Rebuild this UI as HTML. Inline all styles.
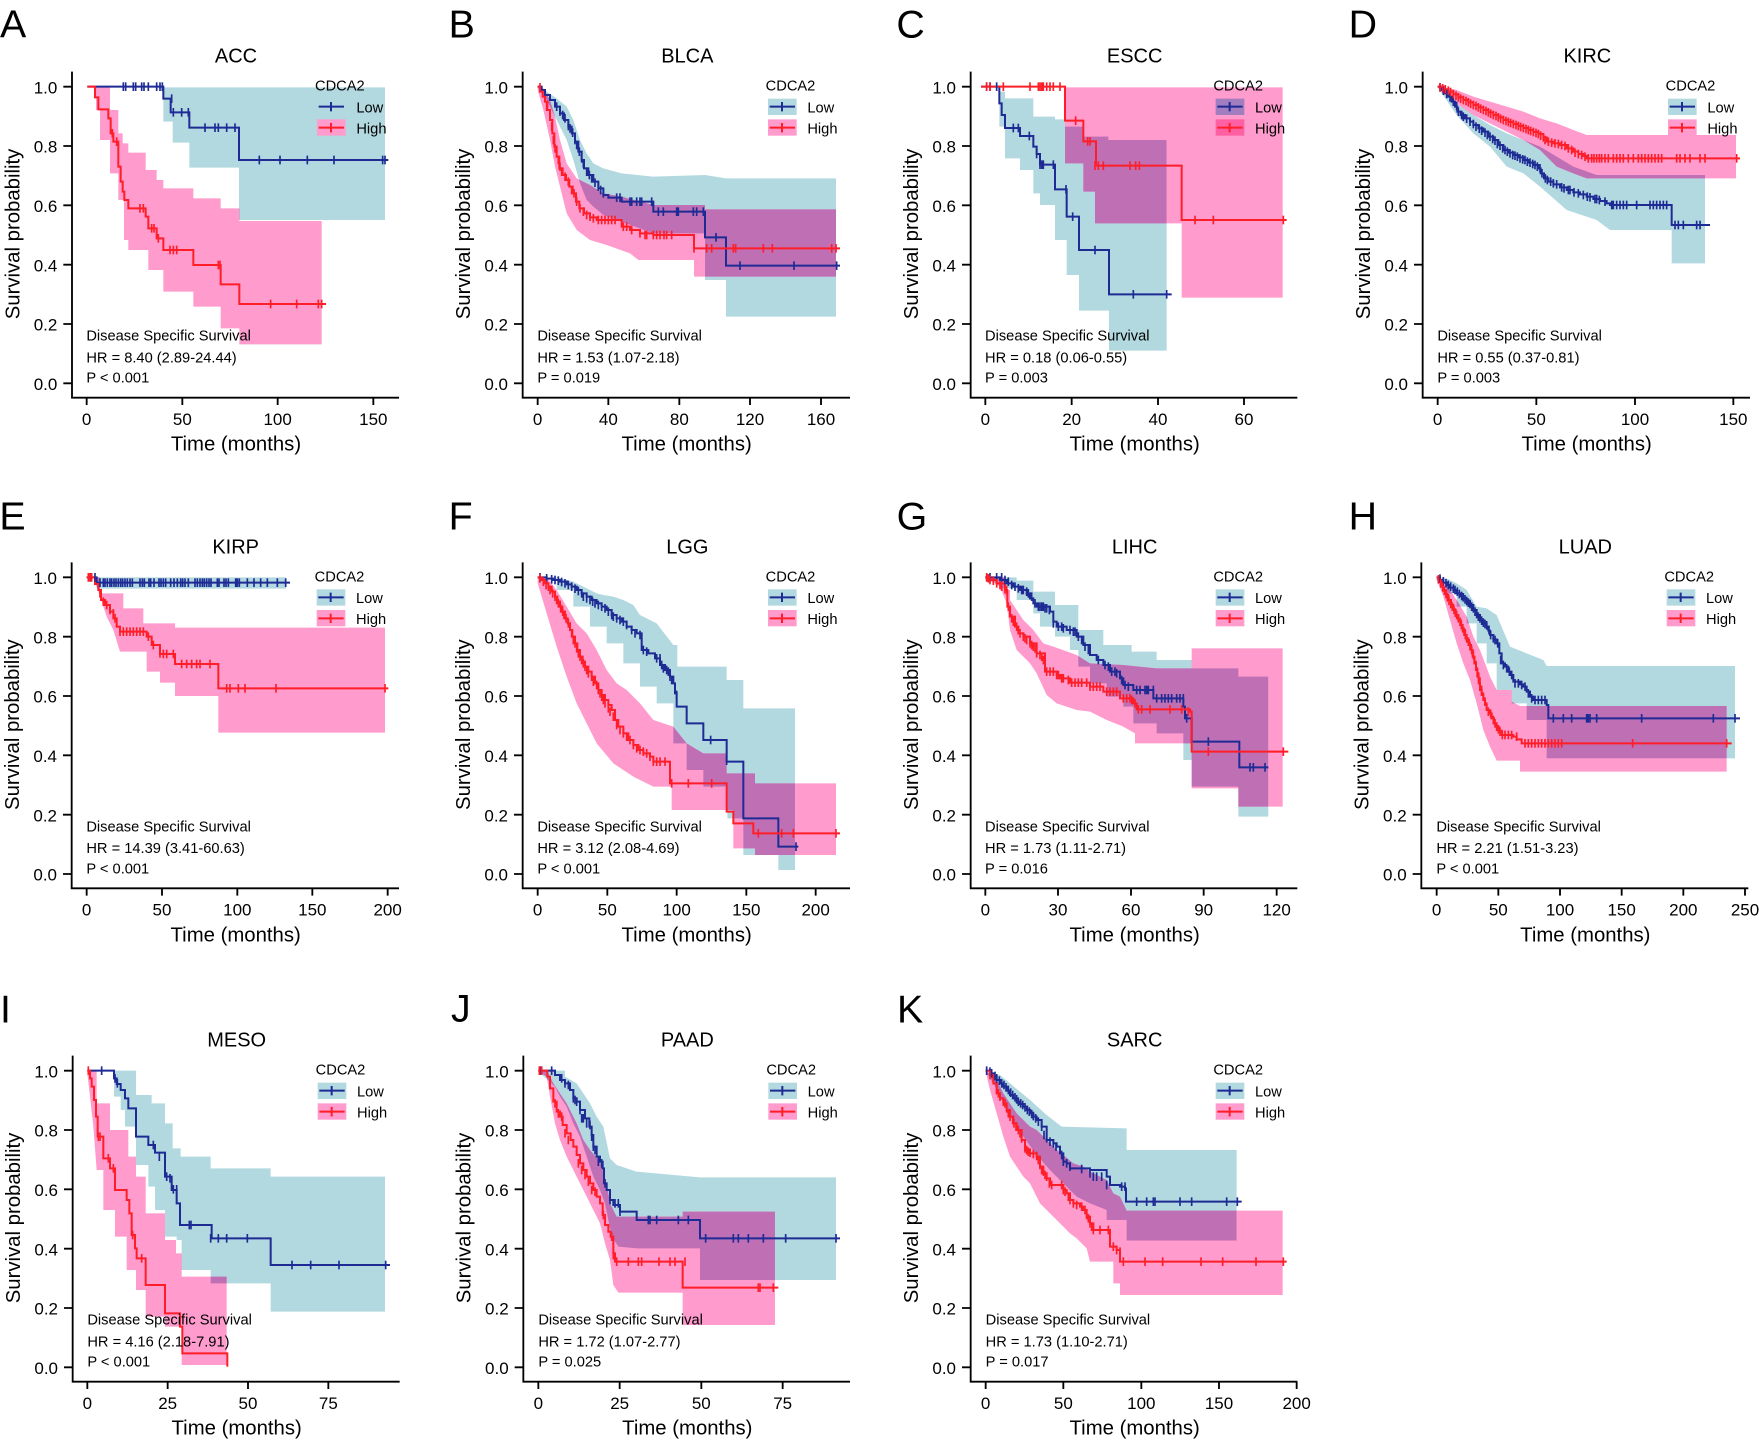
<!DOCTYPE html>
<html><head><meta charset="utf-8"><style>
html,body{margin:0;padding:0;background:#fff;}
svg{display:block;}
text{font-family:"Liberation Sans",Arial,sans-serif;fill:#000;}
.ax{stroke:#000;stroke-width:5.5;fill:none;}
.fb{fill:#B3D9E0;}
.fp{fill:#FF9BCD;}
.fm{fill:#BF70B5;}
.lb{fill:none;stroke:#1E2B94;stroke-width:6;}
.lr{fill:none;stroke:#FF1E28;stroke-width:6;}
.cb{fill:none;stroke:none;marker-start:url(#mb);marker-mid:url(#mb);marker-end:url(#mb);}
.cr{fill:none;stroke:none;marker-start:url(#mr);marker-mid:url(#mr);marker-end:url(#mr);}
.tk{font-size:51px;}
.at{font-size:61px;}
.tt{font-size:60px;}
.sm{font-size:44px;}
.lt{font-size:118px;}
</style></head><body>
<svg width="1759" height="1440" viewBox="0 0 1759 1440" xmlns="http://www.w3.org/2000/svg">
<defs>
<marker id="mb" markerUnits="userSpaceOnUse" markerWidth="20" markerHeight="40" refX="10" refY="20" overflow="visible"><path d="M10,7V33" stroke="#1E2B94" stroke-width="5" fill="none"/></marker>
<marker id="mr" markerUnits="userSpaceOnUse" markerWidth="20" markerHeight="40" refX="10" refY="20" overflow="visible"><path d="M10,7V33" stroke="#FF1E28" stroke-width="5" fill="none"/></marker>
<clipPath id="cA"><polygon points="490,262 1155,262 1155,660 717,660 717,503 568,503 568,428 518,428 518,365 490,365"/></clipPath>
<clipPath id="cB"><polygon points="293,258 320,275 350,295 380,320 400,360 420,420 440,460 460,490 490,505 545,520 640,530 795,525 858,535 1188,535 1188,950 858,950 858,840 795,840 795,700 640,700 545,665 490,645 460,620 440,600 420,550 400,480 380,420 350,360 320,300 293,262"/></clipPath>
<clipPath id="cC"><polygon points="328,275 345,275 345,295 430,295 430,350 495,350 495,358 525,358 525,380 580,380 580,410 655,410 655,420 830,420 830,1052 657,1052 657,932 567,932 567,825 530,825 530,720 495,720 495,615 450,615 450,580 430,580 430,510 390,510 390,475 345,475 345,380 328,380"/></clipPath>
<clipPath id="cD"><polygon points="293,258 350,310 400,345 450,375 500,400 550,420 600,440 650,470 700,500 770,525 1095,525 1095,790 995,790 995,690 810,690 770,660 680,630 600,560 550,520 500,500 450,440 400,400 350,345 293,262"/></clipPath>
<clipPath id="cE"><polygon points="290,262 858,262 858,296 290,296"/></clipPath>
<clipPath id="cF"><polygon points="293,262 350,262 400,275 430,290 450,300 470,310 490,315 520,320 550,330 580,345 600,375 650,400 700,465 712,465 712,530 860,530 860,570 910,570 910,655 1065,655 1065,1140 1015,1140 1015,1095 910,1095 910,985 862,985 862,890 790,890 790,840 740,840 740,760 700,760 700,640 650,640 650,590 600,590 600,520 550,520 550,460 500,460 500,410 450,410 450,350 400,350 400,300 350,300 350,265 293,265"/></clipPath>
<clipPath id="cG"><polygon points="286,262 380,262 380,272 430,272 430,305 495,305 495,345 565,345 565,420 640,420 640,465 725,465 725,485 800,485 800,510 905,510 905,535 1045,535 1045,560 1135,560 1135,980 1045,980 1045,890 905,890 905,810 880,810 880,730 800,730 800,700 730,700 730,650 700,650 700,620 650,620 650,580 600,580 600,530 565,530 565,480 540,480 540,440 495,440 495,410 450,410 450,370 430,370 430,330 380,330 380,295 330,295 330,275 286,275"/></clipPath>
<clipPath id="cH"><polygon points="290,262 320,265 350,280 380,300 410,350 440,355 470,375 510,470 560,490 610,510 620,528 1185,528 1185,805 620,805 620,690 560,690 560,640 515,640 515,600 470,600 470,520 440,520 440,460 410,460 410,400 380,400 380,350 350,350 350,310 320,310 320,270 290,270"/></clipPath>
<clipPath id="cI"><polygon points="342,302 408,302 408,375 455,375 455,400 495,400 495,460 518,460 518,535 542,535 542,560 632,560 632,595 812,595 812,620 1155,620 1155,1025 812,1025 812,940 632,940 632,900 545,900 545,810 530,810 530,800 495,800 495,720 465,720 465,650 445,650 445,585 408,585 408,470 375,470 375,420 362,420 362,380 342,380"/></clipPath>
<clipPath id="cJ"><polygon points="295,302 375,302 375,320 410,340 430,370 450,400 470,440 490,470 510,565 530,585 590,605 780,622 1188,622 1188,930 780,930 780,835 590,835 535,830 515,800 495,700 480,660 460,620 440,560 420,500 400,460 380,410 360,380 345,350 295,305"/></clipPath>
<clipPath id="cK"><polygon points="287,302 330,315 360,340 390,365 420,390 470,435 515,470 710,475 710,540 1040,540 1040,812 710,812 710,750 650,750 650,720 600,700 560,680 520,640 480,600 440,555 400,500 370,450 340,400 310,340 287,305"/></clipPath>
</defs>
<rect x="0" y="0" width="1759" height="1440" fill="#fff"/>

<!-- ================= A ================= -->
<g transform="translate(0,0) scale(0.333333)">
<polygon class="fb" points="490,262 1155,262 1155,660 717,660 717,503 568,503 568,428 518,428 518,365 490,365"/>
<polygon class="fp" points="288,262 330,262 330,330 355,330 355,400 368,400 368,430 385,430 385,458 437,458 437,510 470,510 470,540 490,540 490,565 580,565 580,595 662,595 662,625 718,625 718,663 965,663 965,1033 718,1033 718,985 662,985 662,920 580,920 580,875 490,875 490,810 445,810 445,750 385,750 385,720 372,720 372,600 355,600 355,520 330,520 330,420 300,420 300,330 288,330"/>
<polygon class="fm" clip-path="url(#cA)" points="288,262 330,262 330,330 355,330 355,400 368,400 368,430 385,430 385,458 437,458 437,510 470,510 470,540 490,540 490,565 580,565 580,595 662,595 662,625 718,625 718,663 965,663 965,1033 718,1033 718,985 662,985 662,920 580,920 580,875 490,875 490,810 445,810 445,750 385,750 385,720 372,720 372,600 355,600 355,520 330,520 330,420 300,420 300,330 288,330"/>
<path class="lb" d="M262,260H490V296H512V337H568V383H717V480H1165"/>
<path class="lr" d="M262,260H285V292H295V328H325V355H332V400H340V425H355V500H362V545H368V575H373V600H385V625H437V650H445V685H470V715H490V750H580V795H662V853H718V912H978"/>
<polyline class="cb" points="370,260 377,260 400,260 407,260 425,260 432,260 445,260 470,260 480,260 487,260 515,296 520,337 545,337 565,337 615,383 645,383 655,383 680,383 705,383 778,480 840,480 922,480 1002,480 1148,480 1155,480"/>
<polyline class="cr" points="337,400 350,425 420,625 430,625 455,685 462,685 475,715 510,750 520,750 530,750 655,795 660,795 812,912 890,912 955,912 965,912"/>
<text class="lt" x="0" y="113">A</text>
<g transform="translate(216,0)">
<path class="ax" d="M0,215V1193H981M-26,260H0M-26,438H0M-26,616H0M-26,794H0M-26,972H0M-26,1150H0M44,1193V1215M331,1193V1215M617,1193V1215M904,1193V1215"/>
<g class="tk" text-anchor="end"><text x="-44" y="280">1.0</text><text x="-44" y="458">0.8</text><text x="-44" y="636">0.6</text><text x="-44" y="814">0.4</text><text x="-44" y="992">0.2</text><text x="-44" y="1170">0.0</text></g>
<g class="tk" text-anchor="middle"><text x="44" y="1275">0</text><text x="331" y="1275">50</text><text x="617" y="1275">100</text><text x="904" y="1275">150</text></g>
<g class="at" text-anchor="middle"><text x="492" y="1352">Time (months)</text><text transform="translate(-158,702) rotate(-90)">Survival probability</text></g>
<text class="tt" text-anchor="middle" x="492" y="188">ACC</text>
<rect class="fb" x="735" y="296" width="86" height="49"/><rect class="fp" x="735" y="358" width="86" height="49"/>
<path class="lb" d="M740,320H816M777,306V334"/><path class="lr" d="M740,383H816M777,369V397"/>
<g class="sm"><text x="729" y="272">CDCA2</text><text x="853" y="337">Low</text><text x="853" y="400">High</text><text x="43" y="1022">Disease Specific Survival</text><text x="43" y="1087">HR = 8.40 (2.89-24.44)</text><text x="43" y="1148">P &lt; 0.001</text></g>
</g>
</g>

<!-- ================= B ================= -->
<g transform="translate(440,0) scale(0.333333)">
<polygon class="fb" points="293,258 320,275 350,295 380,320 400,360 420,420 440,460 460,490 490,505 545,520 640,530 795,525 858,535 1188,535 1188,950 858,950 858,840 795,840 795,700 640,700 545,665 490,645 460,620 440,600 420,550 400,480 380,420 350,360 320,300 293,262"/>
<polygon class="fp" points="293,258 310,265 330,300 345,350 360,420 380,490 410,535 450,555 490,580 545,590 640,615 795,615 795,628 1188,628 1188,830 762,830 762,780 595,780 570,760 500,735 450,720 410,690 380,640 360,560 345,500 330,420 310,330 293,270"/>
<polygon class="fm" clip-path="url(#cB)" points="293,258 310,265 330,300 345,350 360,420 380,490 410,535 450,555 490,580 545,590 640,615 795,615 795,628 1188,628 1188,830 762,830 762,780 595,780 570,760 500,735 450,720 410,690 380,640 360,560 345,500 330,420 310,330 293,270"/>
<path class="lb" d="M293,260H305V270H315V285H330V300H345V320H360V340H372V360H385V380H395V400H405V425H415V455H425V480H432V505H445V525H460V545H475V565H490V585H505V593H545V605H640V635H795V712H858V797H1200"/>
<path class="lr" d="M293,260H300V275H308V290H315V305H322V330H330V360H337V400H343V440H350V470H358V505H368V525H378V540H388V560H398V580H408V605H418V625H432V640H450V652H470V660H545V680H570V690H600V700H640V705H762V745H1200"/>
<polyline class="cb" points="350,320 360,335 368,345 375,355 385,378 390,385 398,398 405,420 410,435 418,455 425,475 430,490 440,515 448,525 455,535 465,548 475,560 482,570 490,580 530,593 540,593 570,605 575,605 590,605 600,605 605,605 635,605 655,635 670,635 710,635 715,635 760,635 770,635 790,635 828,712 900,797 1062,797 1190,797"/>
<polyline class="cr" points="300,262 320,320 330,350 335,380 340,420 345,445 350,460 355,480 360,500 365,515 375,530 385,545 395,570 402,580 410,605 420,625 430,635 440,645 450,650 460,655 475,660 485,660 495,660 505,660 515,660 525,660 550,680 560,680 575,690 600,700 615,705 620,705 640,705 650,705 660,705 672,705 680,705 695,705 762,745 800,745 815,745 880,745 887,745 970,745 997,745 1175,745 1188,745"/>
<text class="lt" x="26" y="112">B</text>
<g transform="translate(248,0)">
<path class="ax" d="M0,215V1193H982M-26,260H0M-26,438H0M-26,616H0M-26,794H0M-26,972H0M-26,1150H0M45,1193V1215M257,1193V1215M470,1193V1215M682,1193V1215M895,1193V1215"/>
<g class="tk" text-anchor="end"><text x="-44" y="280">1.0</text><text x="-44" y="458">0.8</text><text x="-44" y="636">0.6</text><text x="-44" y="814">0.4</text><text x="-44" y="992">0.2</text><text x="-44" y="1170">0.0</text></g>
<g class="tk" text-anchor="middle"><text x="45" y="1275">0</text><text x="257" y="1275">40</text><text x="470" y="1275">80</text><text x="682" y="1275">120</text><text x="895" y="1275">160</text></g>
<g class="at" text-anchor="middle"><text x="492" y="1352">Time (months)</text><text transform="translate(-158,702) rotate(-90)">Survival probability</text></g>
<text class="tt" text-anchor="middle" x="494" y="188">BLCA</text>
<rect class="fb" x="736" y="296" width="86" height="49"/><rect class="fp" x="736" y="358" width="86" height="49"/>
<path class="lb" d="M741,320H817M778,306V334"/><path class="lr" d="M741,383H817M778,369V397"/>
<g class="sm"><text x="729" y="272">CDCA2</text><text x="854" y="337">Low</text><text x="854" y="400">High</text><text x="44" y="1022">Disease Specific Survival</text><text x="44" y="1087">HR = 1.53 (1.07-2.18)</text><text x="44" y="1148">P = 0.019</text></g>
</g>
</g>

<!-- ================= C ================= -->
<g transform="translate(890,0) scale(0.333333)">
<polygon class="fb" points="328,275 345,275 345,295 430,295 430,350 495,350 495,358 525,358 525,380 580,380 580,410 655,410 655,420 830,420 830,1052 657,1052 657,932 567,932 567,825 530,825 530,720 495,720 495,615 450,615 450,580 430,580 430,510 390,510 390,475 345,475 345,380 328,380"/>
<polygon class="fp" points="525,262 1178,262 1178,893 875,893 875,670 615,670 615,575 580,575 580,490 525,490"/>
<polygon class="fm" clip-path="url(#cC)" points="525,262 1178,262 1178,893 875,893 875,670 615,670 615,575 580,575 580,490 525,490"/>
<path class="lb" d="M273,260H328V310H335V345H345V384H390V408H430V440H440V462H450V494H495V568H530V650H567V750H657V883H845"/>
<path class="lr" d="M273,260H525V362H580V424H618V497H875V660H1190"/>
<polyline class="cb" points="290,260 300,260 320,260 370,384 385,384 418,408 440,462 450,494 455,494 460,494 490,494 528,568 548,650 615,750 730,883 830,883"/>
<polyline class="cr" points="290,260 300,260 340,260 420,260 445,260 450,260 455,260 460,260 470,260 480,260 490,260 510,260 557,362 593,424 600,424 615,497 625,497 640,497 720,497 737,497 748,497 915,660 970,660 1180,660"/>
<text class="lt" x="19" y="112">C</text>
<g transform="translate(242,0)">
<path class="ax" d="M0,215V1193H980M-26,260H0M-26,438H0M-26,616H0M-26,794H0M-26,972H0M-26,1150H0M44,1193V1215M303,1193V1215M562,1193V1215M820,1193V1215"/>
<g class="tk" text-anchor="end"><text x="-44" y="280">1.0</text><text x="-44" y="458">0.8</text><text x="-44" y="636">0.6</text><text x="-44" y="814">0.4</text><text x="-44" y="992">0.2</text><text x="-44" y="1170">0.0</text></g>
<g class="tk" text-anchor="middle"><text x="44" y="1275">0</text><text x="303" y="1275">20</text><text x="562" y="1275">40</text><text x="820" y="1275">60</text></g>
<g class="at" text-anchor="middle"><text x="492" y="1352">Time (months)</text><text transform="translate(-158,702) rotate(-90)">Survival probability</text></g>
<text class="tt" text-anchor="middle" x="492" y="188">ESCC</text>
<rect fill="#A27DC0" x="735" y="296" width="86" height="49"/><rect fill="#FF60A3" x="735" y="358" width="86" height="49"/>
<path class="lb" d="M740,320H816M777,306V334"/><path class="lr" d="M740,383H816M777,369V397"/>
<g class="sm"><text x="728" y="272">CDCA2</text><text x="853" y="337">Low</text><text x="853" y="400">High</text><text x="43" y="1022">Disease Specific Survival</text><text x="43" y="1087">HR = 0.18 (0.06-0.55)</text><text x="43" y="1148">P = 0.003</text></g>
</g>
</g>

<!-- ================= D ================= -->
<g transform="translate(1340,0) scale(0.333333)">
<polygon class="fb" points="293,258 350,310 400,345 450,375 500,400 550,420 600,440 650,470 700,500 770,525 1095,525 1095,790 995,790 995,690 810,690 770,660 680,630 600,560 550,520 500,500 450,440 400,400 350,345 293,262"/>
<polygon class="fp" points="293,258 350,270 400,290 450,305 500,320 550,335 600,355 650,370 700,390 740,405 1188,405 1188,535 740,535 700,520 650,500 600,450 550,420 500,395 450,370 400,345 350,310 293,262"/>
<polygon class="fm" clip-path="url(#cD)" points="293,258 350,270 400,290 450,305 500,320 550,335 600,355 650,370 700,390 740,405 1188,405 1188,535 740,535 700,520 650,500 600,450 550,420 500,395 450,370 400,345 350,310 293,262"/>
<path class="lb" d="M293,260H305V270H315V280H325V290H335V305H345V320H352V335H362V345H375V355H390V365H400V375H415V385H430V395H445V410H460V420H475V435H490V450H505V458H520V465H535V472H550V480H565V488H580V495H595V505H602V520H612V535H625V545H640V553H660V562H680V570H700V577H720V583H740V590H760V597H780V603H800V610H810V615H995V675H1110"/>
<path class="lr" d="M293,260H310V268H325V275H340V283H355V292H370V300H385V307H400V315H415V322H430V330H445V337H460V345H475V352H490V360H505V366H520V372H535V378H550V384H565V390H580V396H595V402H610V412H620V425H640V430H660V435H680V445H700V455H715V462H730V468H740V475H1200"/>
<polyline class="cb" points="300,262 310,272 320,282 330,292 340,305 350,318 355,335 365,345 370,350 380,356 390,365 400,372 408,380 418,386 425,392 435,398 442,405 450,410 458,417 465,422 472,432 480,437 488,445 495,450 502,455 510,460 518,465 525,467 532,470 540,475 548,478 555,480 562,485 570,488 578,492 585,495 592,500 600,505 606,520 616,535 622,540 632,545 640,550 650,553 665,562 672,565 685,570 690,570 702,577 715,580 730,585 742,590 750,592 765,597 770,597 778,600 795,605 815,615 820,615 830,615 840,615 850,615 860,615 890,615 930,615 940,615 950,615 960,615 970,615 980,615 1005,675 1015,675 1030,675 1070,675 1080,675"/>
<polyline class="cr" points="300,262 308,265 316,268 325,272 332,276 340,282 348,287 355,292 362,296 370,300 378,303 385,307 392,311 400,315 408,318 415,322 422,326 430,330 438,333 445,337 452,341 460,345 468,348 475,352 482,356 490,360 498,363 505,366 512,369 520,372 528,375 535,378 542,381 550,384 558,387 565,390 572,393 580,396 588,399 595,402 602,407 610,412 615,420 625,425 635,428 645,430 655,432 665,435 675,438 685,445 695,450 705,458 715,462 725,465 735,470 745,475 755,475 762,475 770,475 778,475 785,475 795,475 805,475 820,475 830,475 840,475 850,475 865,475 880,475 895,475 905,475 915,475 925,475 935,475 945,475 955,475 965,475 1010,475 1020,475 1035,475 1050,475 1080,475 1095,475 1190,475"/>
<text class="lt" x="26" y="112">D</text>
<g transform="translate(248,0)">
<path class="ax" d="M0,215V1193H982M-26,260H0M-26,438H0M-26,616H0M-26,794H0M-26,972H0M-26,1150H0M45,1193V1215M341,1193V1215M637,1193V1215M932,1193V1215"/>
<g class="tk" text-anchor="end"><text x="-44" y="280">1.0</text><text x="-44" y="458">0.8</text><text x="-44" y="636">0.6</text><text x="-44" y="814">0.4</text><text x="-44" y="992">0.2</text><text x="-44" y="1170">0.0</text></g>
<g class="tk" text-anchor="middle"><text x="45" y="1275">0</text><text x="341" y="1275">50</text><text x="637" y="1275">100</text><text x="932" y="1275">150</text></g>
<g class="at" text-anchor="middle"><text x="492" y="1352">Time (months)</text><text transform="translate(-158,702) rotate(-90)">Survival probability</text></g>
<text class="tt" text-anchor="middle" x="494" y="188">KIRC</text>
<rect class="fb" x="736" y="296" width="86" height="49"/><rect class="fp" x="736" y="358" width="86" height="49"/>
<path class="lb" d="M741,320H817M778,306V334"/><path class="lr" d="M741,383H817M778,369V397"/>
<g class="sm"><text x="729" y="272">CDCA2</text><text x="854" y="337">Low</text><text x="854" y="400">High</text><text x="44" y="1022">Disease Specific Survival</text><text x="44" y="1087">HR = 0.55 (0.37-0.81)</text><text x="44" y="1148">P = 0.003</text></g>
</g>
</g>

<!-- ================= E ================= -->
<g transform="translate(0,490) scale(0.333333)">
<polygon class="fb" points="290,262 858,262 858,296 290,296"/>
<polygon class="fp" points="285,262 300,262 300,310 370,310 370,355 430,355 430,400 525,400 525,413 1155,413 1155,728 655,728 655,618 525,618 525,578 480,578 480,545 440,545 440,485 360,485 340,420 320,380 300,320 285,275"/>
<polygon class="fm" clip-path="url(#cE)" points="285,262 300,262 300,310 370,310 370,355 430,355 430,400 525,400 525,413 1155,413 1155,728 655,728 655,618 525,618 525,578 480,578 480,545 440,545 440,485 360,485 340,420 320,380 300,320 285,275"/>
<path class="lb" d="M260,262H290V278H870"/>
<path class="lr" d="M260,262H285V282H295V300H303V330H315V345H330V365H340V385H350V410H360V425H440V440H455V465H480V492H525V522H655V595H1165"/>
<polyline class="cb" points="265,262 272,262 285,262 300,278 310,278 315,278 322,278 330,278 335,278 342,278 348,278 355,278 362,278 368,278 375,278 382,278 390,278 397,278 420,278 427,278 433,278 447,278 452,278 462,278 477,278 483,278 490,278 497,278 512,278 522,278 532,278 542,278 548,278 555,278 565,278 585,278 592,278 600,278 607,278 613,278 620,278 627,278 633,278 652,278 657,278 672,278 678,278 685,278 707,278 712,278 718,278 742,278 762,278 782,278 802,278 832,278 857,278"/>
<polyline class="cr" points="265,262 270,262 275,262 300,310 310,335 320,345 330,360 340,370 345,385 350,400 360,425 370,425 380,425 390,425 400,425 410,425 420,425 430,425 445,440 460,465 480,490 490,492 500,492 520,492 545,522 560,522 575,522 590,522 600,522 630,522 680,595 690,595 715,595 735,595 828,595 1155,595"/>
<text class="lt" x="-2" y="118">E</text>
<g transform="translate(215,2)">
<path class="ax" d="M0,215V1193H982M-26,260H0M-26,438H0M-26,616H0M-26,794H0M-26,972H0M-26,1150H0M45,1193V1215M271,1193V1215M497,1193V1215M722,1193V1215M948,1193V1215"/>
<g class="tk" text-anchor="end"><text x="-44" y="280">1.0</text><text x="-44" y="458">0.8</text><text x="-44" y="636">0.6</text><text x="-44" y="814">0.4</text><text x="-44" y="992">0.2</text><text x="-44" y="1170">0.0</text></g>
<g class="tk" text-anchor="middle"><text x="45" y="1275">0</text><text x="271" y="1275">50</text><text x="497" y="1275">100</text><text x="722" y="1275">150</text><text x="948" y="1275">200</text></g>
<g class="at" text-anchor="middle"><text x="492" y="1352">Time (months)</text><text transform="translate(-158,702) rotate(-90)">Survival probability</text></g>
<text class="tt" text-anchor="middle" x="492" y="188">KIRP</text>
<rect class="fb" x="735" y="296" width="86" height="49"/><rect class="fp" x="735" y="358" width="86" height="49"/>
<path class="lb" d="M740,320H816M777,306V334"/><path class="lr" d="M740,383H816M777,369V397"/>
<g class="sm"><text x="729" y="272">CDCA2</text><text x="853" y="337">Low</text><text x="853" y="400">High</text><text x="44" y="1022">Disease Specific Survival</text><text x="44" y="1087">HR = 14.39 (3.41-60.63)</text><text x="44" y="1148">P &lt; 0.001</text></g>
</g>
</g>

<!-- ================= F ================= -->
<g transform="translate(440,490) scale(0.333333)">
<polygon class="fb" points="293,262 350,262 400,275 430,290 450,300 470,310 490,315 520,320 550,330 580,345 600,375 650,400 700,465 712,465 712,530 860,530 860,570 910,570 910,655 1065,655 1065,1140 1015,1140 1015,1095 910,1095 910,985 862,985 862,890 790,890 790,840 740,840 740,760 700,760 700,640 650,640 650,590 600,590 600,520 550,520 550,460 500,460 500,410 450,410 450,350 400,350 400,300 350,300 350,265 293,265"/>
<polygon class="fp" points="293,262 320,262 350,300 380,350 410,400 440,430 470,480 500,540 530,580 560,600 600,640 640,690 700,710 740,760 790,790 860,790 860,850 945,850 945,880 1188,880 1188,1095 945,1095 945,1075 880,1075 880,960 695,960 695,890 640,890 580,860 520,820 470,760 440,700 410,640 380,560 350,470 320,370 293,280"/>
<polygon class="fm" clip-path="url(#cF)" points="293,262 320,262 350,300 380,350 410,400 440,430 470,480 500,540 530,580 560,600 600,640 640,690 700,710 740,760 790,790 860,790 860,850 945,850 945,880 1188,880 1188,1095 945,1095 945,1075 880,1075 880,960 695,960 695,890 640,890 580,860 520,820 470,760 440,700 410,640 380,560 350,470 320,370 293,280"/>
<path class="lb" d="M293,262H320V266H340V270H360V275H380V283H395V290H410V300H425V310H440V320H455V330H470V340H485V350H500V360H515V375H530V385H545V395H560V410H575V420H590V430H605V480H625V490H645V505H660V525H675V540H690V560H700V580H705V610H710V650H740V700H790V750H860V815H910V985H1015V1070H1075"/>
<path class="lr" d="M293,262H305V270H315V280H325V290H335V305H345V320H352V335H360V350H367V365H375V385H383V400H390V420H397V440H405V460H412V480H420V500H428V515H435V530H445V545H455V560H465V580H475V600H485V615H495V630H505V645H515V660H525V690H535V710H550V730H565V750H580V765H595V780H610V790H630V800H640V815H690V880H860V965H880V1000H940V1030H1200"/>
<polyline class="cb" points="300,262 320,265 335,268 345,270 355,272 365,276 375,280 385,285 395,290 405,296 415,303 425,310 430,320 440,325 450,330 458,335 465,340 475,345 485,350 495,355 505,365 515,375 520,380 530,385 540,390 550,395 560,405 575,420 585,430 600,435 610,480 620,485 650,505 660,505 665,525 670,535 680,540 685,545 690,560 695,570 705,595 710,615 812,750 860,812 1068,1070"/>
<polyline class="cr" points="300,265 310,275 318,285 325,290 330,300 338,310 345,320 350,330 355,340 362,355 368,365 372,375 378,385 385,400 390,410 395,430 400,450 405,460 410,475 415,490 420,500 425,510 430,520 435,530 440,540 445,550 455,560 460,575 470,585 475,600 480,610 485,620 490,630 495,640 505,655 510,665 520,680 530,705 540,720 550,730 560,740 570,750 580,765 590,775 600,780 610,785 620,790 630,800 640,815 650,815 660,815 675,815 695,880 745,880 815,880 955,1030 1025,1030 1060,1030 1188,1030"/>
<text class="lt" x="26" y="118">F</text>
<g transform="translate(248,2)">
<path class="ax" d="M0,215V1193H982M-26,260H0M-26,438H0M-26,616H0M-26,794H0M-26,972H0M-26,1150H0M45,1193V1215M254,1193V1215M462,1193V1215M671,1193V1215M879,1193V1215"/>
<g class="tk" text-anchor="end"><text x="-44" y="280">1.0</text><text x="-44" y="458">0.8</text><text x="-44" y="636">0.6</text><text x="-44" y="814">0.4</text><text x="-44" y="992">0.2</text><text x="-44" y="1170">0.0</text></g>
<g class="tk" text-anchor="middle"><text x="45" y="1275">0</text><text x="254" y="1275">50</text><text x="462" y="1275">100</text><text x="671" y="1275">150</text><text x="879" y="1275">200</text></g>
<g class="at" text-anchor="middle"><text x="492" y="1352">Time (months)</text><text transform="translate(-158,702) rotate(-90)">Survival probability</text></g>
<text class="tt" text-anchor="middle" x="494" y="188">LGG</text>
<rect class="fb" x="736" y="296" width="86" height="49"/><rect class="fp" x="736" y="358" width="86" height="49"/>
<path class="lb" d="M741,320H817M778,306V334"/><path class="lr" d="M741,383H817M778,369V397"/>
<g class="sm"><text x="729" y="272">CDCA2</text><text x="854" y="337">Low</text><text x="854" y="400">High</text><text x="44" y="1022">Disease Specific Survival</text><text x="44" y="1087">HR = 3.12 (2.08-4.69)</text><text x="44" y="1148">P &lt; 0.001</text></g>
</g>
</g>

<!-- ================= G ================= -->
<g transform="translate(890,490) scale(0.333333)">
<polygon class="fb" points="286,262 380,262 380,272 430,272 430,305 495,305 495,345 565,345 565,420 640,420 640,465 725,465 725,485 800,485 800,510 905,510 905,535 1045,535 1045,560 1135,560 1135,980 1045,980 1045,890 905,890 905,810 880,810 880,730 800,730 800,700 730,700 730,650 700,650 700,620 650,620 650,580 600,580 600,530 565,530 565,480 540,480 540,440 495,440 495,410 450,410 450,370 430,370 430,330 380,330 380,295 330,295 330,275 286,275"/>
<polygon class="fp" points="286,262 345,262 345,300 360,300 360,330 380,360 400,390 430,420 460,460 490,470 560,495 600,520 700,525 800,535 905,535 905,475 1178,475 1178,950 1045,950 1045,895 905,895 905,760 735,760 735,730 700,710 650,690 600,665 560,660 500,640 470,615 440,550 420,520 400,500 380,480 360,420 350,340 330,290 286,262"/>
<polygon class="fm" clip-path="url(#cG)" points="286,262 345,262 345,300 360,300 360,330 380,360 400,390 430,420 460,460 490,470 560,495 600,520 700,525 800,535 905,535 905,475 1178,475 1178,950 1045,950 1045,895 905,895 905,760 735,760 735,730 700,710 650,690 600,665 560,660 500,640 470,615 440,550 420,520 400,500 380,480 360,420 350,340 330,290 286,262"/>
<path class="lb" d="M286,262H330V270H350V280H370V290H390V300H410V310H420V325H430V340H440V350H480V365H490V395H500V410H530V420H560V440H580V465H600V495H620V510H640V525H660V545H690V565H700V585H730V600H790V625H880V650H885V685H905V755H1048V832H1135"/>
<path class="lr" d="M286,262H300V270H320V280H345V300H352V350H360V380H375V410H385V430H400V440H420V460H440V490H465V545H500V555H510V565H540V578H600V590H640V605H690V625H730V640H740V658H900V665H905V785H1195"/>
<polyline class="cb" points="300,262 320,262 335,262 345,270 355,275 365,285 375,290 385,295 395,300 400,300 410,305 415,310 425,320 435,340 445,350 450,350 455,350 460,350 465,355 470,355 478,360 490,400 505,410 515,410 520,415 540,420 550,425 555,425 565,440 575,450 585,470 595,480 625,510 645,525 655,530 665,545 675,545 680,550 695,570 705,585 715,590 740,600 750,600 765,600 770,600 775,600 790,600 800,625 815,625 825,625 835,625 845,625 860,625 870,625 880,625 890,685 955,755 1080,832 1090,832 1125,832"/>
<polyline class="cr" points="290,262 295,265 300,270 310,272 320,280 330,285 335,290 345,298 350,300 355,350 365,385 370,395 380,410 385,420 390,430 400,440 405,445 410,450 420,460 425,465 430,470 435,475 440,490 450,495 455,500 460,510 470,545 480,545 490,545 500,555 505,555 515,565 520,565 535,570 545,578 555,578 565,578 575,578 590,578 600,590 610,590 620,590 630,590 650,605 660,605 670,605 680,605 700,625 710,625 720,625 725,630 735,640 745,658 755,658 780,658 840,658 875,658 895,665 955,785 1180,785"/>
<text class="lt" x="20" y="118">G</text>
<g transform="translate(242,2)">
<path class="ax" d="M0,215V1193H980M-26,260H0M-26,438H0M-26,616H0M-26,794H0M-26,972H0M-26,1150H0M44,1193V1215M262,1193V1215M481,1193V1215M699,1193V1215M918,1193V1215"/>
<g class="tk" text-anchor="end"><text x="-44" y="280">1.0</text><text x="-44" y="458">0.8</text><text x="-44" y="636">0.6</text><text x="-44" y="814">0.4</text><text x="-44" y="992">0.2</text><text x="-44" y="1170">0.0</text></g>
<g class="tk" text-anchor="middle"><text x="44" y="1275">0</text><text x="262" y="1275">30</text><text x="481" y="1275">60</text><text x="699" y="1275">90</text><text x="918" y="1275">120</text></g>
<g class="at" text-anchor="middle"><text x="492" y="1352">Time (months)</text><text transform="translate(-158,702) rotate(-90)">Survival probability</text></g>
<text class="tt" text-anchor="middle" x="492" y="188">LIHC</text>
<rect class="fb" x="735" y="296" width="86" height="49"/><rect class="fp" x="735" y="358" width="86" height="49"/>
<path class="lb" d="M740,320H816M777,306V334"/><path class="lr" d="M740,383H816M777,369V397"/>
<g class="sm"><text x="728" y="272">CDCA2</text><text x="853" y="337">Low</text><text x="853" y="400">High</text><text x="43" y="1022">Disease Specific Survival</text><text x="43" y="1087">HR = 1.73 (1.11-2.71)</text><text x="43" y="1148">P = 0.016</text></g>
</g>
</g>

<!-- ================= H ================= -->
<g transform="translate(1340,490) scale(0.333333)">
<polygon class="fb" points="290,262 320,265 350,280 380,300 410,350 440,355 470,375 510,470 560,490 610,510 620,528 1185,528 1185,805 620,805 620,690 560,690 560,640 515,640 515,600 470,600 470,520 440,520 440,460 410,460 410,400 380,400 380,350 350,350 350,310 320,310 320,270 290,270"/>
<polygon class="fp" points="290,262 310,268 330,300 350,330 380,380 400,440 420,480 450,560 470,600 515,600 515,635 540,648 1160,648 1160,845 540,845 540,812 470,812 450,770 430,720 410,640 390,570 370,520 350,460 330,390 310,320 290,270"/>
<polygon class="fm" clip-path="url(#cH)" points="290,262 310,268 330,300 350,330 380,380 400,440 420,480 450,560 470,600 515,600 515,635 540,648 1160,648 1160,845 540,845 540,812 470,812 450,770 430,720 410,640 390,570 370,520 350,460 330,390 310,320 290,270"/>
<path class="lb" d="M290,262H300V270H310V278H320V285H330V293H340V300H350V310H360V318H370V326H380V335H390V347H400V360H410V375H420V390H430V400H440V410H445V422H450V435H460V448H470V460H478V490H485V520H495V530H505V545H510V555H520V575H540V583H550V590H560V605H570V620H580V630H620V645H625V685H1200"/>
<path class="lr" d="M290,262H300V275H305V290H310V300H318V315H325V330H333V345H340V360H347V375H355V390H362V405H368V420H375V435H380V450H387V465H393V480H398V500H403V520H408V540H412V560H416V580H420V600H425V615H430V630H435V645H440V660H448V670H455V685H462V700H470V712H478V722H485V735H520V740H530V748H545V760H1175"/>
<polyline class="cb" points="300,266 310,274 318,280 325,285 332,290 340,296 345,300 352,305 358,312 365,318 370,322 375,328 380,333 385,338 390,342 395,350 400,355 405,365 410,372 415,380 420,385 425,392 430,398 435,402 440,406 447,420 452,435 460,445 465,450 473,460 482,510 490,525 500,535 508,545 515,555 525,580 535,580 545,585 555,590 565,610 575,625 585,630 595,630 605,630 615,630 640,685 670,685 695,685 740,685 745,685 750,685 770,685 905,685 1120,685 1185,685"/>
<polyline class="cr" points="295,268 302,280 308,292 313,302 318,312 322,322 327,332 332,342 337,350 342,360 346,368 350,375 355,385 360,395 364,405 368,415 372,425 376,435 380,445 385,455 390,468 395,480 400,495 404,510 408,525 412,545 416,560 420,575 425,600 430,620 435,635 440,650 445,665 452,672 460,690 465,700 470,710 475,718 480,725 487,735 495,735 505,735 515,735 530,740 555,760 565,760 575,760 585,760 595,760 605,760 615,760 625,760 635,760 645,760 655,760 665,760 878,760 1160,760"/>
<text class="lt" x="26" y="118">H</text>
<g transform="translate(244,2)">
<path class="ax" d="M0,215V1193H981M-26,260H0M-26,438H0M-26,616H0M-26,794H0M-26,972H0M-26,1150H0M46,1193V1215M231,1193V1215M416,1193V1215M601,1193V1215M786,1193V1215M971,1193V1215"/>
<g class="tk" text-anchor="end"><text x="-44" y="280">1.0</text><text x="-44" y="458">0.8</text><text x="-44" y="636">0.6</text><text x="-44" y="814">0.4</text><text x="-44" y="992">0.2</text><text x="-44" y="1170">0.0</text></g>
<g class="tk" text-anchor="middle"><text x="46" y="1275">0</text><text x="231" y="1275">50</text><text x="416" y="1275">100</text><text x="601" y="1275">150</text><text x="786" y="1275">200</text><text x="971" y="1275">250</text></g>
<g class="at" text-anchor="middle"><text x="492" y="1352">Time (months)</text><text transform="translate(-158,702) rotate(-90)">Survival probability</text></g>
<text class="tt" text-anchor="middle" x="492" y="188">LUAD</text>
<rect class="fb" x="736" y="296" width="86" height="49"/><rect class="fp" x="736" y="358" width="86" height="49"/>
<path class="lb" d="M741,320H817M778,306V334"/><path class="lr" d="M741,383H817M778,369V397"/>
<g class="sm"><text x="729" y="272">CDCA2</text><text x="854" y="337">Low</text><text x="854" y="400">High</text><text x="45" y="1022">Disease Specific Survival</text><text x="45" y="1087">HR = 2.21 (1.51-3.23)</text><text x="45" y="1148">P &lt; 0.001</text></g>
</g>
</g>

<!-- ================= I ================= -->
<g transform="translate(0,970) scale(0.333333)">
<polygon class="fb" points="342,302 408,302 408,375 455,375 455,400 495,400 495,460 518,460 518,535 542,535 542,560 632,560 632,595 812,595 812,620 1155,620 1155,1025 812,1025 812,940 632,940 632,900 545,900 545,810 530,810 530,800 495,800 495,720 465,720 465,650 445,650 445,585 408,585 408,470 375,470 375,420 362,420 362,380 342,380"/>
<polygon class="fp" points="262,302 290,302 290,400 330,400 330,480 385,480 385,560 408,560 408,620 437,620 437,730 495,730 495,810 528,810 528,850 545,850 545,920 680,920 680,1185 545,1185 545,1070 495,1070 495,1040 437,1040 437,960 408,960 408,900 380,900 380,800 345,800 345,720 310,720 310,600 290,600 280,470 270,380 262,310"/>
<polygon class="fm" clip-path="url(#cI)" points="262,302 290,302 290,400 330,400 330,480 385,480 385,560 408,560 408,620 437,620 437,730 495,730 495,810 528,810 528,850 545,850 545,920 680,920 680,1185 545,1185 545,1070 495,1070 495,1040 437,1040 437,960 408,960 408,900 380,900 380,800 345,800 345,720 310,720 310,600 290,600 280,470 270,380 262,310"/>
<path class="lb" d="M262,302H342V325H350V342H362V360H375V385H385V415H408V500H445V525H465V548H495V620H515V660H530V700H540V765H635V805H812V885H1170"/>
<path class="lr" d="M262,302H270V325H275V350H282V390H288V440H293V500H310V565H330V595H345V660H380V690H388V730H395V795H405V835H410V865H437V945H495V1030H540V1070H547V1150H682V1190"/>
<polyline class="cb" points="305,302 345,325 352,340 460,525 465,535 478,560 500,620 510,625 520,658 530,658 568,765 573,765 632,805 655,805 680,805 742,805 876,885 932,885 1017,885 1157,885"/>
<polyline class="cr" points="265,302 295,500 300,500 325,565 340,595 398,795 425,865"/>
<text class="lt" x="0" y="157">I</text>
<g transform="translate(218,42)">
<path class="ax" d="M0,215V1193H981M-26,260H0M-26,438H0M-26,616H0M-26,794H0M-26,972H0M-26,1150H0M44,1193V1215M285,1193V1215M526,1193V1215M767,1193V1215"/>
<g class="tk" text-anchor="end"><text x="-44" y="280">1.0</text><text x="-44" y="458">0.8</text><text x="-44" y="636">0.6</text><text x="-44" y="814">0.4</text><text x="-44" y="992">0.2</text><text x="-44" y="1170">0.0</text></g>
<g class="tk" text-anchor="middle"><text x="44" y="1275">0</text><text x="285" y="1275">25</text><text x="526" y="1275">50</text><text x="767" y="1275">75</text></g>
<g class="at" text-anchor="middle"><text x="492" y="1352">Time (months)</text><text transform="translate(-158,702) rotate(-90)">Survival probability</text></g>
<text class="tt" text-anchor="middle" x="492" y="188">MESO</text>
<rect class="fb" x="735" y="296" width="86" height="49"/><rect class="fp" x="735" y="358" width="86" height="49"/>
<path class="lb" d="M740,320H816M777,306V334"/><path class="lr" d="M740,383H816M777,369V397"/>
<g class="sm"><text x="729" y="272">CDCA2</text><text x="853" y="337">Low</text><text x="853" y="400">High</text><text x="44" y="1022">Disease Specific Survival</text><text x="44" y="1087">HR = 4.16 (2.18-7.91)</text><text x="44" y="1148">P &lt; 0.001</text></g>
</g>
</g>

<!-- ================= J ================= -->
<g transform="translate(440,970) scale(0.333333)">
<polygon class="fb" points="295,302 375,302 375,320 410,340 430,370 450,400 470,440 490,470 510,565 530,585 590,605 780,622 1188,622 1188,930 780,930 780,835 590,835 535,830 515,800 495,700 480,660 460,620 440,560 420,500 400,460 380,410 360,380 345,350 295,305"/>
<polygon class="fp" points="295,302 320,302 330,320 340,340 360,370 380,400 410,460 430,510 450,540 480,575 500,640 510,700 530,740 728,740 728,725 1005,725 1005,1065 728,1065 728,968 535,968 520,945 510,870 495,820 480,760 460,720 440,680 420,640 400,600 380,560 360,510 345,460 330,380 320,320 295,305"/>
<polygon class="fm" clip-path="url(#cJ)" points="295,302 320,302 330,320 340,340 360,370 380,400 410,460 430,510 450,540 480,575 500,640 510,700 530,740 728,740 728,725 1005,725 1005,1065 728,1065 728,968 535,968 520,945 510,870 495,820 480,760 460,720 440,680 420,640 400,600 380,560 360,510 345,460 330,380 320,320 295,305"/>
<path class="lb" d="M295,302H345V315H360V330H375V340H390V360H400V385H410V395H420V420H435V445H448V470H455V495H460V530H470V560H480V575H488V595H492V640H500V660H510V690H520V705H540V725H590V750H780V805H1200"/>
<path class="lr" d="M295,302H322V320H330V355H340V395H350V425H360V440H368V465H380V490H392V510H400V530H410V555H420V580H430V600H440V620H450V640H460V660H470V680H480V700H488V735H495V765H505V785H512V800H520V850H525V875H728V953H1015"/>
<polyline class="cb" points="300,302 305,302 335,302 365,325 375,340 385,345 400,385 405,390 410,395 420,420 425,445 430,445 440,460 450,465 455,500 460,530 465,540 475,575 485,580 495,640 510,690 525,700 535,700 540,725 625,750 630,750 650,750 715,750 745,750 797,805 880,805 895,805 925,805 970,805 1037,805 1188,805"/>
<polyline class="cr" points="298,302 305,302 345,400 355,430 365,440 375,490 385,510 415,580 425,600 435,615 445,635 455,660 465,665 490,735 505,775 515,800 520,855 530,875 565,875 595,875 605,875 657,875 690,875 705,875 735,875 955,953 960,953 1000,953"/>
<text class="lt" x="33" y="155">J</text>
<g transform="translate(250,42)">
<path class="ax" d="M0,215V1193H980M-26,260H0M-26,438H0M-26,616H0M-26,794H0M-26,972H0M-26,1150H0M45,1193V1215M289,1193V1215M534,1193V1215M778,1193V1215"/>
<g class="tk" text-anchor="end"><text x="-44" y="280">1.0</text><text x="-44" y="458">0.8</text><text x="-44" y="636">0.6</text><text x="-44" y="814">0.4</text><text x="-44" y="992">0.2</text><text x="-44" y="1170">0.0</text></g>
<g class="tk" text-anchor="middle"><text x="45" y="1275">0</text><text x="289" y="1275">25</text><text x="534" y="1275">50</text><text x="778" y="1275">75</text></g>
<g class="at" text-anchor="middle"><text x="492" y="1352">Time (months)</text><text transform="translate(-158,702) rotate(-90)">Survival probability</text></g>
<text class="tt" text-anchor="middle" x="492" y="188">PAAD</text>
<rect class="fb" x="735" y="296" width="86" height="49"/><rect class="fp" x="735" y="358" width="86" height="49"/>
<path class="lb" d="M740,320H816M777,306V334"/><path class="lr" d="M740,383H816M777,369V397"/>
<g class="sm"><text x="729" y="272">CDCA2</text><text x="853" y="337">Low</text><text x="853" y="400">High</text><text x="45" y="1022">Disease Specific Survival</text><text x="45" y="1087">HR = 1.72 (1.07-2.77)</text><text x="45" y="1148">P = 0.025</text></g>
</g>
</g>

<!-- ================= K ================= -->
<g transform="translate(890,970) scale(0.333333)">
<polygon class="fb" points="287,302 330,315 360,340 390,365 420,390 470,435 515,470 710,475 710,540 1040,540 1040,812 710,812 710,750 650,750 650,720 600,700 560,680 520,640 480,600 440,555 400,500 370,450 340,400 310,340 287,305"/>
<polygon class="fp" points="287,302 320,330 340,370 360,400 380,430 400,450 420,470 440,480 460,500 480,520 500,540 520,555 550,580 580,590 600,605 650,630 670,670 690,680 710,722 1178,722 1178,975 690,975 690,940 670,940 670,875 600,875 590,835 560,805 540,790 520,770 500,750 470,720 450,700 420,640 400,620 380,590 360,560 340,500 320,430 300,360 287,305"/>
<polygon class="fm" clip-path="url(#cK)" points="287,302 320,330 340,370 360,400 380,430 400,450 420,470 440,480 460,500 480,520 500,540 520,555 550,580 580,590 600,605 650,630 670,670 690,680 710,722 1178,722 1178,975 690,975 690,940 670,940 670,875 600,875 590,835 560,805 540,790 520,770 500,750 470,720 450,700 420,640 400,620 380,590 360,560 340,500 320,430 300,360 287,305"/>
<path class="lb" d="M287,302H300V310H310V320H320V330H330V340H340V350H350V362H360V375H370V385H380V395H390V402H400V410H410V420H420V430H430V440H440V450H455V470H470V510H490V520H500V530H510V550H520V575H530V580H540V595H600V600H650V620H660V645H690V650H705V655H708V695H1055"/>
<path class="lr" d="M287,302H300V315H310V340H320V370H330V385H340V400H350V420H360V440H370V460H380V480H395V510H405V540H420V550H440V560H450V590H460V610H470V625H480V645H500V645H520V660H530V670H540V690H550V700H570V710H580V720H590V740H600V760H610V780H660V830H680V840H690V875H1190"/>
<polyline class="cb" points="290,302 300,305 305,310 315,318 320,325 328,332 335,340 342,345 348,352 355,360 362,368 368,375 375,382 380,388 385,395 392,400 398,405 405,412 412,420 418,425 425,432 430,438 437,445 445,455 455,470 462,495 470,505 480,515 490,520 498,530 515,555 520,575 530,580 540,590 575,597 600,610 610,620 620,620 635,620 650,645 695,650 705,650 740,695 770,695 790,695 795,695 870,695 905,695 1010,695 1042,695"/>
<polyline class="cr" points="300,315 310,330 320,360 325,370 330,380 340,395 345,400 350,415 355,430 360,440 368,450 372,460 378,470 385,480 390,490 395,505 405,535 410,540 415,545 420,548 430,552 440,558 445,570 450,585 455,600 460,605 465,615 470,620 478,640 485,645 515,645 520,660 525,665 535,680 540,690 550,700 560,705 575,710 585,720 590,735 595,745 600,760 605,770 610,780 630,780 655,780 670,830 680,840 690,845 700,875 765,875 818,875 933,875 998,875 1098,875 1180,875"/>
<text class="lt" x="21" y="157">K</text>
<g transform="translate(242,42)">
<path class="ax" d="M0,215V1193H980M-26,260H0M-26,438H0M-26,616H0M-26,794H0M-26,972H0M-26,1150H0M45,1193V1215M278,1193V1215M512,1193V1215M745,1193V1215M978,1193V1215"/>
<g class="tk" text-anchor="end"><text x="-44" y="280">1.0</text><text x="-44" y="458">0.8</text><text x="-44" y="636">0.6</text><text x="-44" y="814">0.4</text><text x="-44" y="992">0.2</text><text x="-44" y="1170">0.0</text></g>
<g class="tk" text-anchor="middle"><text x="45" y="1275">0</text><text x="278" y="1275">50</text><text x="512" y="1275">100</text><text x="745" y="1275">150</text><text x="978" y="1275">200</text></g>
<g class="at" text-anchor="middle"><text x="492" y="1352">Time (months)</text><text transform="translate(-158,702) rotate(-90)">Survival probability</text></g>
<text class="tt" text-anchor="middle" x="492" y="188">SARC</text>
<rect class="fb" x="735" y="296" width="86" height="49"/><rect class="fp" x="735" y="358" width="86" height="49"/>
<path class="lb" d="M740,320H816M777,306V334"/><path class="lr" d="M740,383H816M777,369V397"/>
<g class="sm"><text x="728" y="272">CDCA2</text><text x="853" y="337">Low</text><text x="853" y="400">High</text><text x="45" y="1022">Disease Specific Survival</text><text x="45" y="1087">HR = 1.73 (1.10-2.71)</text><text x="45" y="1148">P = 0.017</text></g>
</g>
</g>

</svg>
</body></html>
